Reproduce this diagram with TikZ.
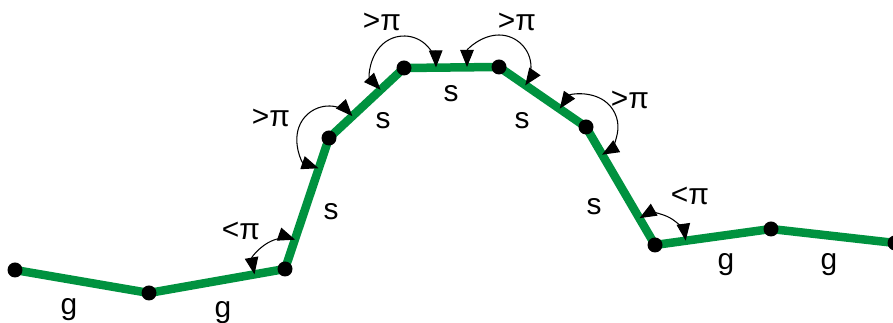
\documentclass[tikz,border=0pt]{standalone}
\usepackage{fontspec}
\setmainfont{Liberation Sans}
\usepackage{tikz}
\usetikzlibrary{arrows.meta,backgrounds,calc}
\definecolor{trackgreen}{RGB}{0,146,63}

\begin{document}
\begin{tikzpicture}[x=0.02cm,y=0.02cm,
  vtx/.style={circle,fill=black,inner sep=0pt,minimum size=0.3cm},
  seg/.style={draw=trackgreen,line width=0.17cm,line join=round},
  ang/.style={black,line width=0.6pt,
              {Triangle[length=0.34cm,width=0.27cm]}-{Triangle[length=0.34cm,width=0.27cm]}},
  lbl/.style={anchor=base,inner sep=0pt,font=\fontsize{17}{20}\selectfont}]
  \useasboundingbox (0,0) rectangle (893,323);
  % vertices of the polyline
  \node[vtx] (v1)  at (15,53) {};
  \node[vtx] (v2)  at (149,30) {};
  \node[vtx] (v3)  at (285,54) {};
  \node[vtx] (v4)  at (329,185) {};
  \node[vtx] (v5)  at (404,255) {};
  \node[vtx] (v6)  at (499,256) {};
  \node[vtx] (v7)  at (586,196) {};
  \node[vtx] (v8)  at (655,78) {};
  \node[vtx] (v9)  at (771,94) {};
  \node[vtx] (v10) at (895,80) {};
  \begin{scope}[on background layer]
    \draw[seg] (v1.center) -- (v2.center) -- (v3.center) -- (v4.center) -- (v5.center)
      -- (v6.center) -- (v7.center) -- (v8.center) -- (v9.center) -- (v10.center);
  \end{scope}
  % angle arcs
  \draw[ang] ($(v3)+(190:0.62cm)$) arc[start angle=190,end angle=71,radius=0.62cm];
  \draw[ang] ($(v4)+(251:0.64cm)$) arc[start angle=251,end angle=43,radius=0.64cm];
  \draw[ang] ($(v5)+(223:0.64cm)$) arc[start angle=223,end angle=1,radius=0.64cm];
  \draw[ang] ($(v6)+(180:0.64cm)$) arc[start angle=180,end angle=-35,radius=0.64cm];
  \draw[ang] ($(v7)+(145:0.64cm)$) arc[start angle=145,end angle=-60,radius=0.64cm];
  \draw[ang] ($(v8)+(120:0.62cm)$) arc[start angle=120,end angle=8,radius=0.62cm];
  % segment labels
  \node[lbl] (g1) at (69,8) {g};
  \node[lbl] (g2) at (223,5) {g};
  \node[lbl] (s1) at (331,103) {s};
  \node[lbl] (s2) at (383,194) {s};
  \node[lbl] (s3) at (451,221) {s};
  \node[lbl] (s4) at (522,194) {s};
  \node[lbl] (s5) at (594,108) {s};
  \node[lbl] (g3) at (726,53) {g};
  \node[lbl] (g4) at (829,53) {g};
  % angle labels
  \node[lbl] (a3) at (241,83) {<π};
  \node[lbl] (a4) at (271,196) {>π};
  \node[lbl] (a5) at (382,292) {>π};
  \node[lbl] (a6) at (517,292) {>π};
  \node[lbl] (a7) at (630,214) {>π};
  \node[lbl] (a8) at (690,118) {<π};
\end{tikzpicture}
\end{document}
